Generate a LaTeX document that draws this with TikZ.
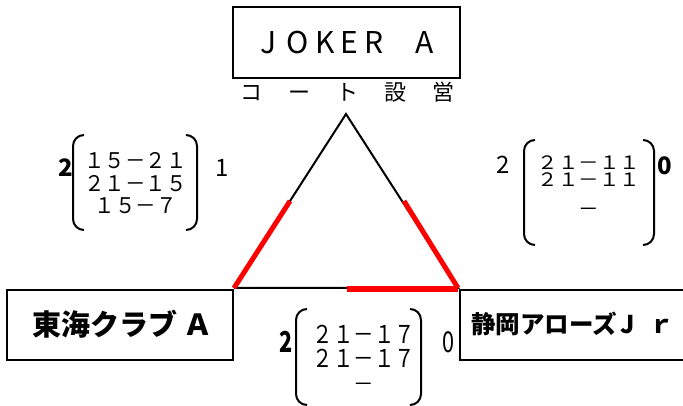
\documentclass[tikz,border=0pt]{standalone}
\usepackage{fontspec}
\setmainfont{Noto Sans CJK JP}
\newcommand{\ys}[2]{\scalebox{1}[#1]{#2}}
\newcommand{\zc}[1]{\makebox[0pt]{#1}}
\begin{document}
\begin{tikzpicture}[x=1pt,y=-1pt,
  teambox/.style={draw, line width=1.1pt, inner sep=0pt, rectangle},
  sc/.style={inner sep=0pt, align=center},
  outer/.style={inner sep=0pt, font=\fontsize{24}{24}\selectfont},
  outerb/.style={inner sep=0pt, font=\bfseries\fontsize{24}{24}\selectfont},
  blackline/.style={line width=2pt, black},
  redline/.style={line width=5pt, red},
  paren/.style={line width=2pt, rounded corners=11pt}]
\useasboundingbox (0,0) rectangle (683,406);
% team boxes
\node[teambox, minimum width=227pt, minimum height=71pt,
  font=\fontsize{30}{30}\selectfont] (joker) at (346.5,42.5)
  {\zc{J}\hspace{29.5pt}\zc{O}\hspace{27pt}\zc{K}\hspace{25pt}\zc{E}\hspace{24pt}\zc{R}\hspace{51pt}\zc{A}};
\node[inner sep=0pt, font=\fontsize{22}{22}\selectfont] (court) at (347.5,92)
  {コ\hspace{26pt}ー\hspace{26pt}ト\hspace{26pt}設\hspace{26pt}営};
\node[teambox, minimum width=226pt, minimum height=70pt] (tokai) at (120,325) {};
\node[inner sep=0pt, font=\bfseries\fontsize{29}{29}\selectfont] (tokait) at (122.5,324)
  {東海クラブ\hspace{7pt}Ａ};
\node[teambox, minimum width=240pt, minimum height=70pt] (shizu) at (580,325) {};
\node[inner sep=0pt, font=\bfseries\fontsize{24.5}{24.5}\selectfont, anchor=west] (shizut) at (471,324)
  {\makebox[156pt][l]{静岡アローズ}\zc{J}\hspace{35pt}\zc{ｒ}};
% triangle
\coordinate (A) at (346,114);
\coordinate (B) at (234,288);
\coordinate (C) at (458,288);
\coordinate (L) at (290,201);
\coordinate (R) at (404,201);
\coordinate (M) at (347,289);
\coordinate (C2) at (458,289);
\draw[blackline] (B) -- (A) -- (C) -- (B);
\draw[redline] (L) -- (B);
\draw[redline] (R) -- (C);
\draw[redline] (M) -- (C2);
% left score
\node[outerb] (l2) at (66,168) {2};
\node[outer] (l1) at (222,168) {1};
\draw[paren] (84,135) -- (73,135) -- (73,230) -- (84,230);
\draw[paren] (186,135) -- (197,135) -- (197,230) -- (186,230);
\node[sc, font=\fontsize{20.5}{22.5}\selectfont] (lsc) at (135.5,183.5)
  {\ys{1.05}{１５－２１}\\\ys{1.05}{２１－１５}\\\ys{1.05}{１５－７}};
% right score
\node[outer] (r2) at (503,165) {2};
\node[outerb] (r0) at (665,166) {0};
\draw[paren] (535,140) -- (524,140) -- (524,245) -- (535,245);
\draw[paren] (643,140) -- (654,140) -- (654,245) -- (643,245);
\node[sc, font=\fontsize{20.5}{17}\selectfont] (rsc) at (589,186.5)
  {\ys{0.9}{２１－１１}\\\ys{0.9}{２１－１１}\\[13pt]－};
% bottom score
\node[outerb] (b2) at (286,342) {\scalebox{0.9}[1.2]{2}};
\node[outer] (b0) at (448,342) {\scalebox{0.9}[1.2]{0}};
\draw[paren] (307,309) -- (296,309) -- (296,405) -- (307,405);
\draw[paren] (410,309) -- (421,309) -- (421,405) -- (410,405);
\node[sc, font=\fontsize{20.5}{24}\selectfont] (bsc) at (364,358)
  {\ys{1.2}{２１－１７}\\\ys{1.2}{２１－１７}\\－};
\end{tikzpicture}
\end{document}
